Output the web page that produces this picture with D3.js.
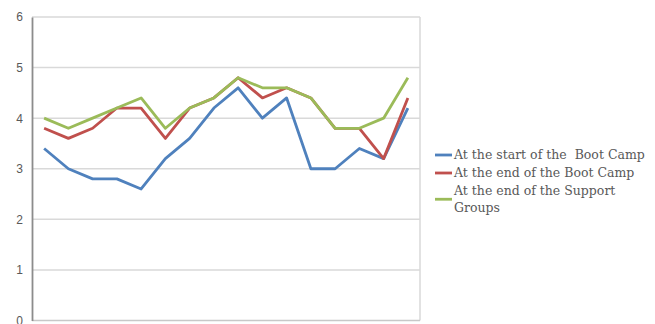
<!DOCTYPE html>
<html>
<head>
<meta charset="utf-8">
<script src="https://cdn.jsdelivr.net/npm/d3@7"></script>
<style>
  html, body { margin: 0; padding: 0; background: #fff; }
  svg { display: block; }
</style>
</head>
<body>
<svg id="chart" width="655" height="324"></svg>
<script>
// Sessions along the x axis (unlabelled)
const sessions = d3.range(1, 17);

// Scores for each measurement point
const startBootCamp = [3.4, 3.0, 2.8, 2.8, 2.6, 3.2, 3.6, 4.2, 4.6, 4.0, 4.4, 3.0, 3.0, 3.4, 3.2, 4.2];
const endBootCamp   = [3.8, 3.6, 3.8, 4.2, 4.2, 3.6, 4.2, 4.4, 4.8, 4.4, 4.6, 4.4, 3.8, 3.8, 3.2, 4.4];
const endSupport    = [4.0, 3.8, 4.0, 4.2, 4.4, 3.8, 4.2, 4.4, 4.8, 4.6, 4.6, 4.4, 3.8, 3.8, 4.0, 4.8];

const seriesNames = ["At the start of the  Boot Camp", "At the end of the Boot Camp", "At the end of the Support Groups"];
const yTicks = [0, 1, 2, 3, 4, 5, 6];

const series = [
  { name: seriesNames[0], values: startBootCamp, color: "#4F81BD" },
  { name: seriesNames[1], values: endBootCamp,   color: "#C0504D" },
  { name: seriesNames[2], values: endSupport,    color: "#9BBB59" }
];

const svg = d3.select("#chart");
const plot = { left: 32, right: 420, top: 17, bottom: 320.5 };

const x = d3.scaleBand().domain(sessions).range([plot.left, plot.right]);
const y = d3.scaleLinear().domain([0, 6]).range([plot.bottom, plot.top]);

// Horizontal gridlines
svg.append("g")
  .selectAll("line")
  .data(yTicks.slice(1))
  .join("line")
  .attr("x1", plot.left).attr("x2", plot.right)
  .attr("y1", d => y(d)).attr("y2", d => y(d))
  .attr("stroke", "#d9d9d9").attr("stroke-width", 1.5);

// Right edge of the plot area
svg.append("line")
  .attr("x1", plot.right).attr("x2", plot.right)
  .attr("y1", plot.top).attr("y2", plot.bottom)
  .attr("stroke", "#d9d9d9").attr("stroke-width", 1.5);

// Bottom axis line
svg.append("line")
  .attr("x1", plot.left).attr("x2", plot.right)
  .attr("y1", plot.bottom).attr("y2", plot.bottom)
  .attr("stroke", "#c8c8c8").attr("stroke-width", 1.5);

// Y axis
const yAxis = svg.append("g")
  .attr("transform", `translate(${plot.left},0)`)
  .call(d3.axisLeft(y).tickValues(yTicks).tickSize(0).tickPadding(9).tickFormat(d3.format("d")));
yAxis.select(".domain").attr("stroke", "#8c8c8c").attr("stroke-width", 1.8);
yAxis.selectAll("text")
  .attr("fill", "#595959")
  .style("font-family", "'Liberation Sans', Arial, sans-serif")
  .style("font-size", "12px");

// Series lines
const line = d3.line()
  .x((d, i) => x(sessions[i]) + x.bandwidth() / 2)
  .y(d => y(d));

svg.append("g")
  .selectAll("path")
  .data(series)
  .join("path")
  .attr("d", d => line(d.values))
  .attr("fill", "none")
  .attr("stroke", d => d.color)
  .attr("stroke-width", 2.8)
  .attr("stroke-linejoin", "round");

// Legend
const legend = svg.append("g").attr("transform", "translate(435,0)");
const legendFont = "'DejaVu Serif', 'Liberation Serif', serif";

const rows = [
  { s: series[0], lines: [seriesNames[0]], y: 155 },
  { s: series[1], lines: [seriesNames[1]], y: 173 },
  { s: series[2], lines: ["At the end of the Support", "Groups"], y: 190.5 }
];

rows.forEach(r => {
  const markY = r.y + (r.lines.length - 1) * 17.5 / 2;
  legend.append("line")
    .attr("x1", 0).attr("x2", 17)
    .attr("y1", markY).attr("y2", markY)
    .attr("stroke", r.s.color).attr("stroke-width", 2.8);
  r.lines.forEach((t, i) => {
    legend.append("text")
      .attr("x", 19)
      .attr("y", r.y + i * 17.5)
      .attr("dy", "0.35em")
      .attr("fill", "#595959")
      .style("font-family", legendFont)
      .style("font-size", "12.5px")
      .style("white-space", "pre")
      .text(t);
  });
});
</script>
</body>
</html>
